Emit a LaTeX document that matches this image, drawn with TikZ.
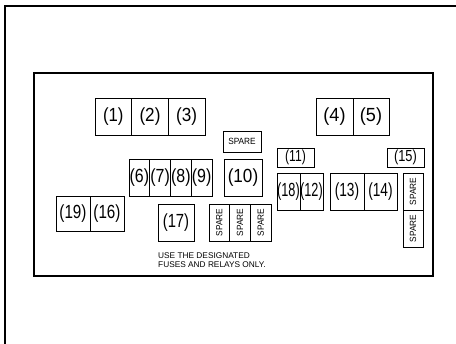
\documentclass[tikz,border=0pt]{standalone}
\usepackage{fontspec}
\usepackage{graphicx}
\setmainfont{Liberation Sans}
\newcommand{\lab}[2]{\scalebox{#1}[1]{#2}}
\tikzset{
  box/.style={draw=black, line width=0.8pt, inner sep=0pt, font=\fontsize{19}{19}\selectfont},
  smallbox/.style={box, font=\fontsize{16}{16}\selectfont},
  sparebox/.style={box, font=\fontsize{9}{9}\selectfont},
  notetext/.style={inner sep=0pt, font=\fontsize{8.3}{9}\selectfont, anchor=base west}
}
\begin{document}
\begin{tikzpicture}[x=1pt,y=-1pt]
\useasboundingbox (0,0) rectangle (456,344);
\fill[white] (0,0) rectangle (456,344);
% outer frame (only top and left visible)
\draw[line width=1.3pt, black] (5,344) -- (5,6) -- (456,6);
% thick inner frame
\draw[line width=2.6pt, black] (34,73) rectangle (433,276);

% (1)(2)(3)
\node[box, minimum width=36.67pt, minimum height=37pt] (n1) at (113.33,116.5) {\lab{0.88}{(1)}};
\node[box, minimum width=36.67pt, minimum height=37pt] (n2) at (150,116.5) {\lab{0.9}{(2)}};
\node[box, minimum width=36.67pt, minimum height=37pt] (n3) at (186.67,116.5) {\lab{0.9}{(3)}};
% (4)(5)
\node[box, minimum width=37pt, minimum height=37pt] (n4) at (334.5,116.5) {\lab{0.95}{(4)}};
\node[box, minimum width=36pt, minimum height=37pt] (n5) at (371,116.5) {\lab{0.95}{(5)}};
% SPARE top
\node[sparebox, minimum width=38pt, minimum height=21pt] (sp1) at (242,141.5) {\lab{0.92}{SPARE}};
% (11), (15)
\node[smallbox, minimum width=37pt, minimum height=19pt] (n11) at (295.5,157.5) {\lab{0.76}{(11)}};
\node[smallbox, minimum width=37pt, minimum height=19pt] (n15) at (405.5,157.5) {\lab{0.8}{(15)}};
% (6)-(9)
\node[box, minimum width=20.75pt, minimum height=37pt] (n6) at (139.375,177.5) {\lab{0.84}{(6)}};
\node[box, minimum width=20.75pt, minimum height=37pt] (n7) at (160.125,177.5) {\lab{0.84}{(7)}};
\node[box, minimum width=20.75pt, minimum height=37pt] (n8) at (180.875,177.5) {\lab{0.84}{(8)}};
\node[box, minimum width=20.75pt, minimum height=37pt] (n9) at (201.625,177.5) {\lab{0.84}{(9)}};
% (10)
\node[box, minimum width=38pt, minimum height=37pt] (n10) at (243,177.5) {\lab{0.9}{(10)}};
% (19)(16)
\node[box, minimum width=34pt, minimum height=35pt] (n19) at (73,213.5) {\lab{0.8}{(19)}};
\node[box, minimum width=34pt, minimum height=35pt] (n16) at (107,213.5) {\lab{0.8}{(16)}};
% (17)
\node[box, minimum width=36pt, minimum height=37pt] (n17) at (176,222.5) {\lab{0.78}{(17)}};
% three vertical SPARE
\node[sparebox, rotate=90, minimum width=37pt, minimum height=20.67pt] (sp2) at (219.33,222.5) {\lab{0.92}{SPARE}};
\node[sparebox, rotate=90, minimum width=37pt, minimum height=20.67pt] (sp3) at (240,222.5) {\lab{0.92}{SPARE}};
\node[sparebox, rotate=90, minimum width=37pt, minimum height=20.67pt] (sp4) at (260.67,222.5) {\lab{0.92}{SPARE}};
% (18)(12)
\node[box, minimum width=23pt, minimum height=37pt] (n18) at (288.5,191.5) {\lab{0.67}{(18)}};
\node[box, minimum width=23pt, minimum height=37pt] (n12) at (311.5,191.5) {\lab{0.67}{(12)}};
% (13)(14)
\node[box, minimum width=34pt, minimum height=37pt] (n13) at (347,191.5) {\lab{0.72}{(13)}};
\node[box, minimum width=33pt, minimum height=37pt] (n14) at (380.5,191.5) {\lab{0.72}{(14)}};
% right vertical SPARE
\node[sparebox, rotate=90, minimum width=37pt, minimum height=20pt] (sp5) at (413,191.5) {\lab{0.92}{SPARE}};
\node[sparebox, rotate=90, minimum width=37pt, minimum height=20pt] (sp6) at (413,228.5) {\lab{0.92}{SPARE}};
% note
\node[notetext] (note1) at (158,258.3) {USE THE DESIGNATED};
\node[notetext] (note2) at (158,267.3) {FUSES AND RELAYS ONLY.};
\end{tikzpicture}
\end{document}
